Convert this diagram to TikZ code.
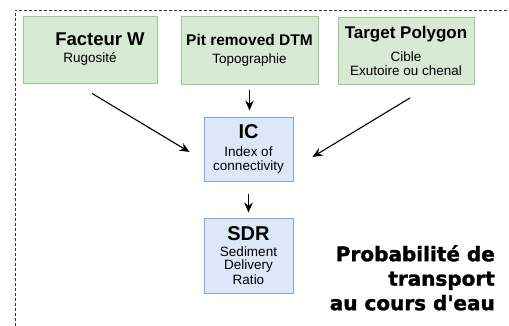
\documentclass[tikz,border=0pt]{standalone}
\usepackage{fontspec}
\setmainfont{Liberation Sans}
\newfontfamily\heavyfont{DejaVu Sans}[BoldFeatures={FakeBold=1.5}]
\usetikzlibrary{arrows.meta, calc}

\definecolor{inputfill}{HTML}{D7EAD3}
\definecolor{inputline}{HTML}{9CC88F}
\definecolor{icfill}{HTML}{DCE8F8}
\definecolor{icline}{HTML}{86A8D6}

\tikzset{
  inputbox/.style={draw=inputline, fill=inputfill, line width=0.9pt, inner sep=0pt, align=center},
  icbox/.style={draw=icline, fill=icfill, line width=0.9pt, inner sep=0pt, align=center},
  flow/.style={-{Stealth[length=10pt,width=8.5pt]}, line width=1.1pt},
}
\newcommand{\titlefont}[1]{\bfseries\fontsize{#1}{#1}\selectfont}
\newcommand{\subfont}{\mdseries\fontsize{13.5}{16.5}\selectfont}

\begin{document}
\begin{tikzpicture}[x=1pt, y=-1pt]
    \useasboundingbox (0,0) rectangle (509,326);
    % cadre pointille
    \draw[dash pattern=on 3pt off 2pt, line width=0.7pt, black!80] (15,326) -- (15,10) -- (509,10);

    % entrees
    \node[inputbox, minimum width=134pt, minimum height=67pt] (fw) at (90,49.5)
        {\titlefont{18.5}\hspace*{20pt}Facteur W\\[5pt]\subfont Rugosité};
    \node[inputbox, minimum width=137pt, minimum height=68pt] (dtm) at (249.5,50)
        {\titlefont{15.5}Pit removed DTM\\[6pt]\subfont Topographie};
    \node[inputbox, minimum width=136pt, minimum height=67pt] (tp) at (406,51)
        {\titlefont{17}Target Polygon\\[9pt]\subfont Cible\\[2pt]\subfont Exutoire ou chenal};

    % indices
    \node[icbox, minimum width=89pt, minimum height=64pt] (ic) at (248.5,149)
        {\titlefont{20}IC\\[6pt]\subfont Index of\\[2pt]\subfont connectivity};
    \node[icbox, minimum width=89pt, minimum height=75pt] (sdr) at (248.5,255.5)
        {\titlefont{20}SDR\\[4pt]\subfont Sediment\\[1pt]\subfont Delivery\\[1pt]\subfont Ratio};

    % fleches
    \draw[flow] ($(fw.south)+(2,10)$) -- ($(ic.west)+(-14,3)$);
    \draw[flow] ($(tp.south)+(4,13)$) -- ($(ic.east)+(19,8)$);
    \draw[flow, shorten <=6pt, shorten >=6pt] (dtm.south) -- (dtm.south |- ic.north);
    \draw[flow, shorten <=13pt, shorten >=5pt] (ic.south) -- (sdr.north);

    \node[font=\heavyfont\bfseries\fontsize{20}{24.5}\selectfont, align=right, anchor=north east, inner sep=0pt] (prob) at (495,245)
        {Probabilité de\\transport\\au cours d'eau};
\end{tikzpicture}
\end{document}
